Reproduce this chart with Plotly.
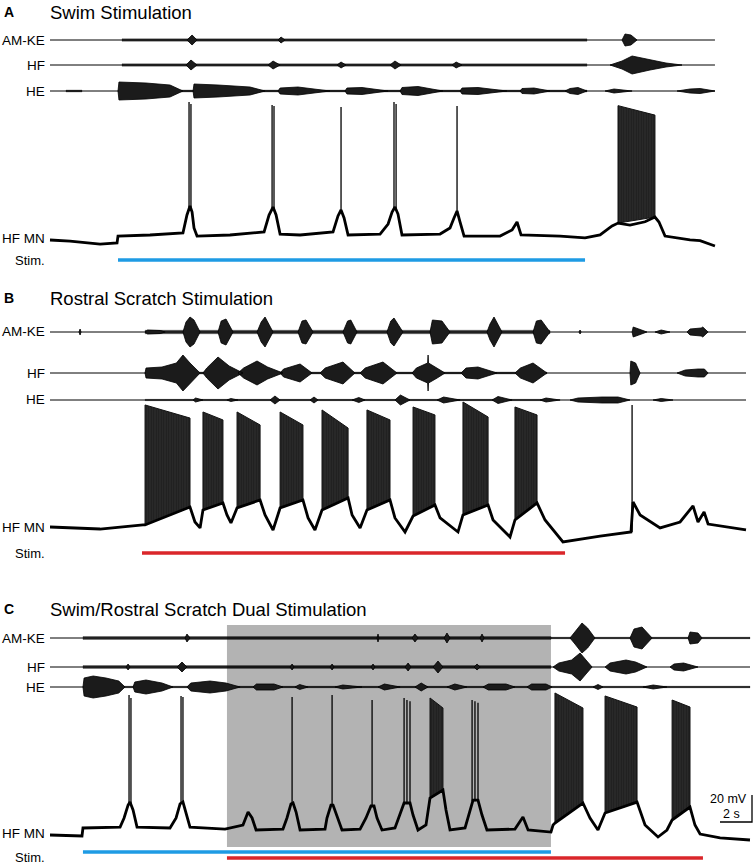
import plotly.graph_objects as go

# ---------------------------------------------------------------
# data: time in s, MN membrane potential in mV
# relative to rest, nerve amplitudes in a.u.
# nerve bursts are envelopes: list of (t, amplitude) points
# noise bands are (t_start, t_end, amplitude)
# dense spike bursts: on, off, top_on, top_off, bottom_on, bottom_off
# ---------------------------------------------------------------
SCALE_T = 2    # s
SCALE_V = 20   # mV

# ---- A: swim stimulation ----
A_END = 41.56
A_STIM_SWIM = (4.25, 33.44)
A_AMKE = [
    [(8.56, 0), (8.88, 5), (9.19, 0)],
    [(14.25, 0), (14.44, 3), (14.69, 0)],
    [(35.75, 0), (35.94, 6), (36.31, 5), (36.69, 0)],
]
A_AMKE_NOISE = [(4.5, 33.56, 1.2)]
A_HF = [
    [(8.5, 0), (8.81, 5), (9.19, 0)],
    [(13.63, 0), (13.94, 4), (14.38, 0)],
    [(17.94, 0), (18.19, 3), (18.5, 0)],
    [(21.25, 0), (21.56, 4), (21.94, 0)],
    [(25.13, 0), (25.38, 3), (25.75, 0)],
    [(35.0, 0), (35.75, 4), (36.38, 9), (37.5, 5), (38.5, 2), (39.5, 0)],
]
A_HF_NOISE = [(4.5, 33.56, 1.2)]
A_HE = [
    [(4.25, 0), (4.31, 9), (6.0, 8), (7.5, 6), (8.31, 0)],
    [(8.94, 0), (9.0, 7), (10.5, 6), (12.5, 4), (13.44, 0)],
    [(14.25, 0), (14.38, 3), (15.5, 4), (17.5, 0)],
    [(18.44, 0), (18.56, 3), (19.5, 3.5), (21.13, 0)],
    [(21.88, 0), (22.0, 3.5), (23.0, 4.5), (24.56, 0)],
    [(25.63, 0), (25.75, 3), (26.75, 3.5), (28.56, 0)],
    [(29.38, 0), (29.5, 2.5), (30.25, 3), (31.25, 0)],
    [(32.19, 0), (32.5, 2.5), (33.0, 3.5), (33.56, 0)],
    [(34.69, 0), (35.25, 2), (36.38, 0)],
    [(39.19, 0), (40.0, 2), (40.63, 2.5), (41.56, 0)],
]
A_HE_NOISE = [(1.0, 2.0, 1.0), (4.25, 33.56, 1.0)]
A_MN = [
    (0.0, 1.5), (1.25, 0.7), (3.13, -1.5), (4.19, -0.7), (4.25, 4.4), (6.25, 5.2), (8.31, 6.7),
    (8.56, 20.0), (8.75, 26.7), (8.88, 22.2), (9.0, 10.4), (9.19, 4.4),
    (11.25, 5.2), (13.38, 7.4),
    (13.69, 20.0), (13.94, 25.9), (14.13, 20.0), (14.38, 5.9),
    (15.63, 5.2), (17.69, 7.4),
    (18.0, 19.3), (18.19, 23.7), (18.38, 17.8), (18.63, 5.2),
    (20.63, 5.9), (21.13, 13.3),
    (21.38, 22.2), (21.56, 25.9), (21.75, 20.7), (22.0, 5.2),
    (24.38, 5.9), (25.0, 10.4),
    (25.25, 17.8), (25.44, 23.0), (25.63, 14.8), (25.88, 4.4),
    (28.13, 4.4), (28.88, 8.9), (29.19, 14.8), (29.44, 5.2),
    (31.88, 4.4), (33.44, 3.0), (34.38, 5.2), (35.13, 11.9), (35.5, 14.0),
    (36.25, 12.5), (37.19, 15.0), (37.81, 18.5), (38.06, 14.8), (38.44, 4.4),
    (40.0, 1.5), (40.63, 1.0), (41.56, -3.0),
]
A_SPIKE_T = [8.69, 8.81, 13.88, 14.0, 18.19, 21.5, 21.63, 25.44]
A_SPIKE_FROM = [26, 26, 25, 25, 23, 25, 25, 22]
A_SPIKE_PEAK = [103.7, 102.2, 101.5, 100.7, 100.0, 103.7, 102.2, 100.7]
A_BURST_ON = [35.5]
A_BURST_OFF = [37.81]
A_BURST_TOP_ON = [101.0]
A_BURST_TOP_OFF = [94.0]
A_BURST_BOT_ON = [14.0]
A_BURST_BOT_OFF = [18.5]

# ---- B: rostral scratch stimulation ----
B_END = 43.5
B_STIM_SCRATCH = (5.75, 32.19)
B_AMKE = [
    [(1.81, 0), (1.88, 3), (1.94, 0)],
    [(5.94, 0), (6.1, 2), (6.9, 1.5), (7.2, 0)],
    [(8.31, 0), (8.5, 10), (8.75, 15), (9.0, 12), (9.38, 0)],
    [(10.5, 0), (10.7, 11), (11.0, 13), (11.44, 0)],
    [(12.94, 0), (13.2, 10), (13.44, 15), (13.94, 0)],
    [(15.5, 0), (15.75, 11), (16.0, 12), (16.44, 0)],
    [(18.31, 0), (18.6, 11), (18.8, 12), (19.19, 0)],
    [(21.06, 0), (21.3, 11), (21.5, 14), (22.06, 0)],
    [(23.75, 0), (23.9, 12), (24.5, 11), (25.0, 0)],
    [(27.31, 0), (27.5, 8), (27.75, 15), (28.25, 0)],
    [(30.19, 0), (30.4, 11), (30.7, 12), (31.25, 0)],
    [(33.06, 0), (33.13, 2), (33.19, 0)],
    [(36.38, 0), (36.45, 5), (36.8, 3), (37.31, 0)],
    [(37.81, 0), (38.2, 2), (38.75, 0)],
    [(39.81, 0), (40.0, 3), (40.7, 4), (40.8, 5), (41.13, 0)],
]
B_AMKE_NOISE = [(5.94, 31.25, 1.8)]
B_HF = [
    [(5.94, 0), (6.0, 5), (7.0, 6), (7.9, 10), (8.31, 18), (8.75, 10), (9.38, 0)],
    [(9.56, 0), (9.8, 5), (10.5, 16), (11.2, 7), (12.06, 0)],
    [(11.75, 0), (12.1, 5), (12.94, 12), (13.6, 6), (14.56, 0)],
    [(14.38, 0), (14.6, 4), (15.63, 9), (16.38, 0)],
    [(16.88, 0), (17.2, 5), (18.31, 11), (19.06, 0)],
    [(19.38, 0), (19.7, 5), (20.81, 11), (21.69, 0)],
    [(22.63, 0), (22.9, 5), (23.6, 10), (23.63, 18), (23.66, 10), (24.2, 5), (24.69, 0)],
    [(25.69, 0), (26.0, 5), (26.75, 6), (27.94, 0)],
    [(29.06, 0), (29.4, 5), (30.19, 10), (31.06, 0)],
    [(36.25, 0), (36.3, 12), (36.6, 10), (36.88, 0)],
    [(39.19, 0), (39.7, 3), (40.5, 4), (40.9, 4), (41.13, 0)],
]
B_HF_NOISE = [(5.94, 31.06, 1.0)]
B_HE = [
    [(8.94, 0), (9.1, 2), (9.56, 0)],
    [(11.06, 0), (11.3, 1.5), (11.75, 0)],
    [(13.75, 0), (14.06, 4), (14.38, 0)],
    [(16.25, 0), (16.5, 3), (16.75, 0)],
    [(18.88, 0), (19.3, 2.5), (19.69, 0)],
    [(21.56, 0), (21.9, 5), (22.5, 0)],
    [(24.19, 0), (24.6, 3), (25.63, 0)],
    [(27.63, 0), (28.0, 3.5), (28.88, 0)],
    [(30.63, 0), (31.0, 2), (31.88, 0)],
    [(32.5, 0), (33.0, 2), (34.5, 3), (35.5, 3), (36.25, 0)],
    [(37.69, 0), (38.2, 1.5), (38.94, 0)],
]
B_HE_NOISE = [(5.94, 31.25, 0.7)]
B_MN = [
    (0.0, 0.0), (3.13, -1.5), (5.81, 1.5), (5.94, 1.5),
    (8.75, 14.8), (9.06, 3.7), (9.38, -0.7),
    (9.56, 12.6), (10.81, 17.8), (11.06, 8.9), (11.31, 3.0),
    (11.69, 14.1), (13.13, 20.0), (13.44, 8.9), (13.94, -2.2),
    (14.38, 14.1), (15.81, 20.0), (16.13, 6.7), (16.56, -2.2),
    (17.0, 12.6), (18.63, 21.5), (18.88, 8.9), (19.38, -0.7),
    (19.81, 12.6), (21.25, 20.0), (21.56, 6.7), (22.19, -3.7),
    (22.69, 8.1), (24.06, 16.3), (24.38, 6.7), (25.5, -3.7),
    (25.81, 8.9), (27.38, 16.3), (27.69, 5.2), (28.75, -7.4),
    (29.06, 5.2), (30.44, 17.8), (30.94, 5.2), (32.06, -11.1),
    (34.38, -6.7), (36.31, -3.7), (36.44, 18.5), (36.88, 8.9), (38.13, -0.7), (39.38, 3.7),
    (40.19, 15.6), (40.5, 3.7), (40.88, 11.1), (41.13, 2.2), (43.5, -2.2),
]
B_SPIKE_T = [36.38]
B_SPIKE_FROM = [-3.7]
B_SPIKE_PEAK = [90.4]
B_BURST_ON = [5.94, 9.56, 11.69, 14.38, 17.0, 19.81, 22.69, 25.81, 29.06]
B_BURST_OFF = [8.75, 10.81, 13.13, 15.81, 18.63, 21.25, 24.06, 27.38, 30.44]
B_BURST_TOP_ON = [90.4, 85.2, 85.2, 85.2, 86.7, 86.7, 88.9, 92.6, 88.9]
B_BURST_TOP_OFF = [80.7, 79.3, 75.6, 75.6, 73.3, 79.3, 83.0, 81.5, 83.0]
B_BURST_BOT_ON = [1.5, 12.6, 14.1, 14.1, 12.6, 12.6, 8.1, 8.9, 5.2]
B_BURST_BOT_OFF = [14.8, 17.8, 20.0, 20.0, 21.5, 20.0, 16.3, 16.3, 17.8]

# ---- C: swim / rostral scratch dual stimulation ----
C_END = 43.75
C_STIM_SWIM = (2.06, 31.31)
C_STIM_SCRATCH = (11.06, 40.81)
C_AMKE = [
    [(8.44, 0), (8.56, 4), (8.75, 0)],
    [(20.44, 0), (20.5, 4), (20.56, 0)],
    [(22.63, 0), (22.81, 4), (23.0, 0)],
    [(24.63, 0), (24.81, 5), (25.0, 0)],
    [(26.88, 0), (27.0, 4), (27.13, 0)],
    [(32.5, 0), (32.81, 6), (33.25, 15), (33.6, 10), (34.06, 0)],
    [(36.25, 0), (36.5, 9), (37.0, 11), (37.63, 0)],
    [(39.88, 0), (40.0, 6), (40.5, 5), (40.75, 0)],
]
C_AMKE_NOISE = [(2.06, 31.31, 1.5), (31.31, 43.75, 0.8)]
C_HF = [
    [(4.75, 0), (4.88, 3), (5.0, 0)],
    [(7.94, 0), (8.25, 5), (8.56, 0)],
    [(15.0, 0), (15.13, 3), (15.25, 0)],
    [(17.5, 0), (17.63, 3), (17.75, 0)],
    [(20.06, 0), (20.19, 3), (20.31, 0)],
    [(22.19, 0), (22.38, 4), (22.56, 0)],
    [(23.94, 0), (24.25, 6), (24.56, 0)],
    [(26.5, 0), (26.69, 3), (26.88, 0)],
    [(31.44, 0), (31.8, 4), (32.6, 7), (33.13, 14), (33.5, 7), (33.88, 0)],
    [(34.69, 0), (35.0, 4), (36.0, 7), (36.6, 5), (37.31, 0)],
    [(38.75, 0), (39.0, 3), (39.6, 4), (40.5, 0)],
]
C_HF_NOISE = [(2.06, 31.31, 1.4)]
C_HE = [
    [(2.06, 0), (2.13, 9), (2.7, 11), (3.5, 9), (4.3, 6), (4.69, 0)],
    [(5.19, 0), (5.3, 5), (6.0, 7), (7.0, 4), (7.69, 0)],
    [(8.56, 0), (8.8, 4), (10.0, 6), (11.0, 4), (11.88, 0)],
    [(12.69, 0), (12.9, 3), (14.0, 3), (14.56, 0)],
    [(15.31, 0), (15.6, 2.5), (16.13, 0)],
    [(17.81, 0), (18.3, 2), (19.5, 0)],
    [(20.5, 0), (20.9, 3), (21.88, 0)],
    [(22.81, 0), (23.2, 4), (23.63, 0)],
    [(24.81, 0), (25.3, 3), (26.06, 0)],
    [(27.06, 0), (27.4, 3), (28.5, 3), (29.06, 0)],
    [(29.81, 0), (30.1, 3), (31.0, 3), (31.38, 0)],
    [(33.94, 0), (34.25, 2.5), (34.56, 0)],
    [(37.06, 0), (37.7, 2), (38.56, 0)],
]
C_HE_NOISE = [(2.06, 43.75, 0.8)]
C_MN = [
    (0.0, 0.0), (1.25, -0.7), (2.0, -0.7), (2.06, 5.2), (4.38, 5.9),
    (4.63, 12.6), (4.88, 22.2), (5.0, 24.4), (5.19, 18.5), (5.44, 5.9),
    (7.5, 5.2),
    (7.88, 12.6), (8.13, 23.0), (8.31, 24.4), (8.5, 17.0), (8.75, 5.9),
    (10.94, 4.4), (12.06, 7.4), (12.38, 17.0), (12.63, 12.6), (12.88, 3.7),
    (14.56, 4.4),
    (14.81, 12.6), (15.06, 23.0), (15.19, 23.7), (15.38, 17.0), (15.63, 3.7),
    (17.19, 4.4),
    (17.31, 12.6), (17.56, 22.2), (17.69, 22.2), (17.88, 15.6), (18.25, 3.7),
    (19.38, 4.4),
    (19.75, 12.6), (20.06, 21.5), (20.25, 21.5), (20.44, 12.6), (20.75, 3.7),
    (21.56, 5.2),
    (21.88, 14.8), (22.13, 23.7), (22.5, 23.7), (22.69, 14.8), (23.0, 3.7),
    (23.5, 7.4), (23.75, 27.4), (24.56, 33.3), (24.75, 18.5), (25.0, 3.7),
    (25.94, 5.2),
    (26.25, 17.0), (26.44, 25.9), (26.75, 25.9), (27.0, 14.8), (27.31, 3.7),
    (29.06, 4.4), (29.56, 13.3), (29.88, 3.7), (31.31, 2.2), (31.44, 7.4),
    (31.56, 8.9), (33.31, 23.7), (33.75, 12.6), (34.25, 3.7), (34.56, 12.6),
    (34.69, 16.3), (36.69, 24.4), (37.19, 7.4), (38.0, -1.5), (38.56, 3.7),
    (38.88, 11.1), (40.0, 20.7), (40.31, 7.4), (40.63, 0.7), (41.88, -2.2), (43.75, -3.7),
]
C_SPIKE_T = [4.94, 5.06, 8.19, 8.31, 15.13, 17.63, 20.13, 22.13, 22.31, 22.5, 26.38, 26.56, 26.75]
C_SPIKE_FROM = [22, 22, 23, 23, 23, 22, 21, 23, 23, 23, 25, 25, 25]
C_SPIKE_PEAK = [103.7, 101.5, 103.0, 102.2, 102.2, 103.7, 100.0, 101.5, 100.0, 99.0, 100.0, 99.0, 98.0]
C_BURST_ON = [23.75, 31.56, 34.69, 38.88]
C_BURST_OFF = [24.56, 33.31, 36.69, 40.0]
C_BURST_TOP_ON = [101.5, 105.2, 103.0, 100.0]
C_BURST_TOP_OFF = [94.1, 94.1, 94.8, 94.8]
C_BURST_BOT_ON = [27.4, 8.9, 16.3, 11.1]
C_BURST_BOT_OFF = [33.3, 23.7, 24.4, 20.7]

CHANNELS = ["AM-KE", "HF", "HE"]

# ---------------------------------------------------------------
# layout, in pixels of the 756 x 866 page (body margin removed below)
# ---------------------------------------------------------------
W, H = 756, 866
PX_PER_S = 16.0
PX_PER_MV = 1.35
T0_PX = 50          # page x pixel where t = 0
NERVE_HALF = 25     # px above / below each nerve baseline
SWIM_BLUE = "rgb(30,155,228)"
SCRATCH_RED = "rgb(218,38,42)"
FONT = "Liberation Sans, Arial, Helvetica, sans-serif"

panels = [
    dict(letter="A", title="Swim Stimulation", title_y=12.5,
         nerve_y=[40, 65, 91], mn_base=242, mn_dom=(88, 258), mn_label_y=239,
         stim_label_y=260, end=A_END,
         nerves=[(A_AMKE, A_AMKE_NOISE), (A_HF, A_HF_NOISE), (A_HE, A_HE_NOISE)],
         mn=A_MN, spikes=(A_SPIKE_T, A_SPIKE_FROM, A_SPIKE_PEAK),
         bursts=(A_BURST_ON, A_BURST_OFF, A_BURST_TOP_ON, A_BURST_TOP_OFF,
                 A_BURST_BOT_ON, A_BURST_BOT_OFF),
         stims=[(A_STIM_SWIM, SWIM_BLUE, 260)]),
    dict(letter="B", title="Rostral Scratch Stimulation", title_y=298.5,
         nerve_y=[332, 373, 400], mn_base=527, mn_dom=(392, 548), mn_label_y=527,
         stim_label_y=553, end=B_END,
         nerves=[(B_AMKE, B_AMKE_NOISE), (B_HF, B_HF_NOISE), (B_HE, B_HE_NOISE)],
         mn=B_MN, spikes=(B_SPIKE_T, B_SPIKE_FROM, B_SPIKE_PEAK),
         bursts=(B_BURST_ON, B_BURST_OFF, B_BURST_TOP_ON, B_BURST_TOP_OFF,
                 B_BURST_BOT_ON, B_BURST_BOT_OFF),
         stims=[(B_STIM_SCRATCH, SCRATCH_RED, 553)]),
    dict(letter="C", title="Swim/Rostral Scratch Dual Stimulation", title_y=609.5,
         nerve_y=[638, 667, 687], mn_base=835, mn_dom=(682, 850), mn_label_y=833,
         stim_label_y=857, end=C_END,
         nerves=[(C_AMKE, C_AMKE_NOISE), (C_HF, C_HF_NOISE), (C_HE, C_HE_NOISE)],
         mn=C_MN, spikes=(C_SPIKE_T, C_SPIKE_FROM, C_SPIKE_PEAK),
         bursts=(C_BURST_ON, C_BURST_OFF, C_BURST_TOP_ON, C_BURST_TOP_OFF,
                 C_BURST_BOT_ON, C_BURST_BOT_OFF),
         stims=[(C_STIM_SWIM, SWIM_BLUE, 852), (C_STIM_SCRATCH, SCRATCH_RED, 858)]),
]


def py(px):
    return 1 - px / H


def px_x(px):
    return px / W


def envelope_xy(bursts):
    xs, ys = [], []
    for b in bursts:
        ts = [p[0] for p in b]
        amps = [p[1] for p in b]
        xs += ts + ts[::-1] + [ts[0], None]
        ys += amps + [-a for a in amps[::-1]] + [amps[0], None]
    return xs, ys


def band_xy(bands):
    xs, ys = [], []
    for t0, t1, a in bands:
        xs += [t0, t1, t1, t0, t0, None]
        ys += [a, a, -a, -a, a, None]
    return xs, ys


fig = go.Figure()
layout = dict(width=W, height=H, margin=dict(l=0, r=0, t=0, b=0),
              paper_bgcolor="white", plot_bgcolor="rgba(0,0,0,0)",
              showlegend=False, shapes=[], annotations=[])

x_range = [-T0_PX / PX_PER_S, (W - T0_PX) / PX_PER_S]

for p, pan in enumerate(panels):
    xname = "x" if p == 0 else f"x{p + 1}"
    layout["xaxis" if p == 0 else f"xaxis{p + 1}"] = dict(
        domain=[0, 1], range=x_range, visible=False, fixedrange=True)

    # nerve recordings
    for k, (bursts, noise) in enumerate(pan["nerves"]):
        idx = p * 4 + k + 1
        yname = "y" if idx == 1 else f"y{idx}"
        c = pan["nerve_y"][k]
        layout["yaxis" if idx == 1 else f"yaxis{idx}"] = dict(
            domain=[py(c + NERVE_HALF), py(c - NERVE_HALF)],
            range=[-NERVE_HALF, NERVE_HALF], anchor=xname, visible=False, fixedrange=True)
        fig.add_trace(go.Scatter(x=[0, pan["end"]], y=[0, 0], mode="lines",
                                 line=dict(color="black", width=1),
                                 xaxis=xname, yaxis=yname, hoverinfo="skip"))
        nx, ny = band_xy(noise)
        fig.add_trace(go.Scatter(x=nx, y=ny, mode="lines", fill="toself",
                                 fillcolor="rgba(0,0,0,0.75)",
                                 line=dict(color="rgba(0,0,0,0.6)", width=0.4),
                                 xaxis=xname, yaxis=yname, hoverinfo="skip"))
        bx, by = envelope_xy(bursts)
        fig.add_trace(go.Scatter(x=bx, y=by, mode="lines", fill="toself",
                                 fillpattern=dict(shape="|", size=2, solidity=0.7,
                                                  fgcolor="black", bgcolor="#2a2a2a"),
                                 line=dict(color="black", width=0.8),
                                 xaxis=xname, yaxis=yname, hoverinfo="skip"))
        layout["annotations"].append(dict(
            text=CHANNELS[k], x=px_x(47), y=py(c), xref="paper", yref="paper",
            xanchor="right", yanchor="middle", showarrow=False,
            font=dict(family=FONT, size=13.5, color="black")))

    # motoneuron intracellular recording
    idx = p * 4 + 4
    yname = f"y{idx}"
    top, bot = pan["mn_dom"]
    base = pan["mn_base"]
    layout[f"yaxis{idx}"] = dict(
        domain=[py(bot), py(top)],
        range=[(base - bot) / PX_PER_MV, (base - top) / PX_PER_MV],
        anchor=xname, visible=False, fixedrange=True)

    on, off, top_on, top_off, bot_on, bot_off = pan["bursts"]
    bx, by = [], []
    for i in range(len(on)):
        bx += [on[i], off[i], off[i], on[i], on[i], None]
        by += [bot_on[i], bot_off[i], top_off[i], top_on[i], bot_on[i], None]
    fig.add_trace(go.Scatter(x=bx, y=by, mode="lines", fill="toself",
                             fillpattern=dict(shape="|", size=2.5, solidity=0.75,
                                              fgcolor="black", bgcolor="#3c3c3c"),
                             line=dict(color="#111", width=1),
                             xaxis=xname, yaxis=yname, hoverinfo="skip"))

    st, sf, sp = pan["spikes"]
    sx, sy = [], []
    for t, f0, pk in zip(st, sf, sp):
        sx += [t, t, None]
        sy += [f0, pk, None]
    fig.add_trace(go.Scatter(x=sx, y=sy, mode="lines",
                             line=dict(color="black", width=1.3),
                             xaxis=xname, yaxis=yname, hoverinfo="skip"))

    fig.add_trace(go.Scatter(x=[q[0] for q in pan["mn"]], y=[q[1] for q in pan["mn"]],
                             mode="lines", line=dict(color="black", width=2.8),
                             xaxis=xname, yaxis=yname, hoverinfo="skip"))

    # stimulation bars
    for (t0, t1), col, ypx in pan["stims"]:
        layout["shapes"].append(dict(type="line", xref=xname, yref="paper",
                                     x0=t0, x1=t1, y0=py(ypx), y1=py(ypx),
                                     line=dict(color=col, width=3.5)))

    # labels
    layout["annotations"] += [
        dict(text=f"<b>{pan['letter']}</b>", x=px_x(9), y=py(pan["title_y"] - 0.5),
             xref="paper", yref="paper", xanchor="center", yanchor="middle",
             showarrow=False, font=dict(family=FONT, size=14, color="black")),
        dict(text=pan["title"], x=px_x(48), y=py(pan["title_y"]),
             xref="paper", yref="paper", xanchor="left", yanchor="middle",
             showarrow=False, font=dict(family=FONT, size=18.5, color="black")),
        dict(text="HF MN", x=px_x(47), y=py(pan["mn_label_y"]),
             xref="paper", yref="paper", xanchor="right", yanchor="middle",
             showarrow=False, font=dict(family=FONT, size=13.5, color="black")),
        dict(text="Stim.", x=px_x(47), y=py(pan["stim_label_y"]),
             xref="paper", yref="paper", xanchor="right", yanchor="middle",
             showarrow=False, font=dict(family=FONT, size=13, color="black")),
    ]

# shaded period of overlapping stimulation in C
layout["shapes"].insert(0, dict(
    type="rect", xref="x3", yref="paper",
    x0=max(C_STIM_SWIM[0], C_STIM_SCRATCH[0]), x1=min(C_STIM_SWIM[1], C_STIM_SCRATCH[1]),
    y0=py(847), y1=py(625), fillcolor="#b3b3b3", line=dict(width=0), layer="below"))

# scale bar (on panel C motoneuron axes)
sb_t = (752 - T0_PX) / PX_PER_S
sb_v = (835 - 822) / PX_PER_MV
fig.add_trace(go.Scatter(x=[sb_t, sb_t, sb_t - SCALE_T], y=[sb_v + SCALE_V, sb_v, sb_v],
                         mode="lines", line=dict(color="black", width=1.3),
                         xaxis="x3", yaxis="y12", hoverinfo="skip"))
layout["annotations"] += [
    dict(text=f"{SCALE_V} mV", x=px_x(749), y=py(799), xref="paper", yref="paper",
         xanchor="right", yanchor="middle", showarrow=False,
         font=dict(family=FONT, size=12.5, color="black")),
    dict(text=f"{SCALE_T} s", x=px_x(731), y=py(814), xref="paper", yref="paper",
         xanchor="center", yanchor="middle", showarrow=False,
         font=dict(family=FONT, size=12.5, color="black")),
]

fig.update_layout(**layout)
# the page is exactly the figure size: drop the default body margin
fig.write_html("out.html", config={"displayModeBar": False},
               post_script="document.body.style.margin='0px';document.body.style.overflow='hidden';")
